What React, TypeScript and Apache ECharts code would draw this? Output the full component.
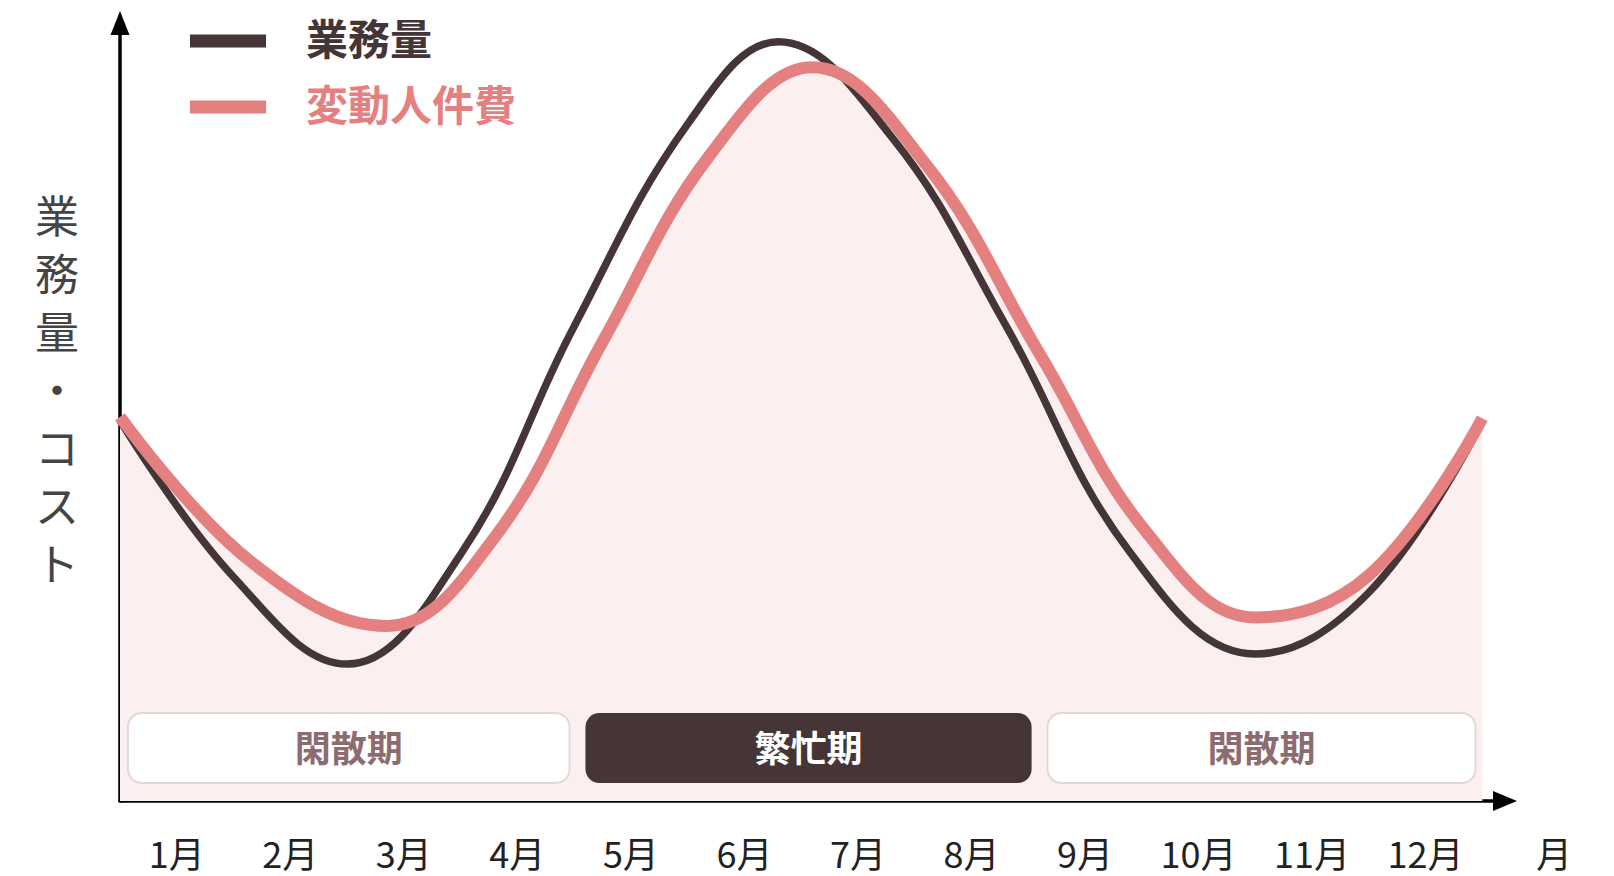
import React, { useEffect, useRef } from 'react';
import * as echarts from 'echarts';

// Tick labels (one per month band)
const months = ['1月', '2月', '3月', '4月', '5月', '6月', '7月', '8月', '9月', '10月', '11月', '12月'];

// 業務量 (workload) – x in months from the start of 1月, y in relative units (0–100)
const workloadX = [0, 1, 2, 3, 4, 5, 5.8, 6.8, 7.8, 8.9, 10, 11, 12];
const workloadY = [48.9, 28.8, 17.6, 31.7, 61.0, 87.0, 97.6, 85.3, 61.2, 31.9, 18.9, 26.8, 48.8];

// 変動人件費 (variable labour cost)
const costX = [0, 1.15, 2.35, 3.3, 4.25, 5.2, 6.1, 7.1, 8.1, 9.05, 10, 11, 12];
const costY = [49.4, 30.8, 22.5, 33.9, 59.0, 83.1, 94.3, 81.8, 57.5, 34.4, 23.6, 29.0, 49.2];

// Period bands (in months)
const periodNames = ['閑散期', '繁忙期', '閑散期'];
const periodStart = [0.07, 4.1, 8.17];
const periodEnd = [3.96, 8.03, 11.94];
const periodBusy = [false, true, false];

const seriesNames = ['業務量', '変動人件費'];
const yAxisName = '業務量・コスト';
const xAxisName = '月';

const DARK = '#463537';
const PINK = '#e58080';
const FILL = '#fbefef';
const FONT = "'Noto Sans CJK JP', 'Noto Sans', sans-serif";
const SMOOTH = 0.4;

export default function App() {
  const ref = useRef<HTMLDivElement>(null);

  useEffect(() => {
    const chart = echarts.init(ref.current!, null, { renderer: 'svg' });

    const workload = workloadX.map((x, i) => [x, workloadY[i]]);
    const cost = costX.map((x, i) => [x, costY[i]]);
    const periods = periodNames.map((n, i) => [periodStart[i], periodEnd[i], i]);

    const BOX_TOP = 11.3;
    const BOX_BOTTOM = 2.3;

    const yName = yAxisName.split('').map((c) => `{c|${c}}`).join('\n') + '\n{g| }';

    const option = {
      animation: false,
      textStyle: { fontFamily: FONT },
      grid: { left: 120, right: 109, top: 23, bottom: 75, containLabel: false },
      legend: {
        orient: 'vertical',
        left: 190,
        top: 15,
        padding: 0,
        icon: 'path://M0,0L76,0M0,10L76,10L76,23L0,23Z',
        itemWidth: 76,
        itemHeight: 23,
        itemGap: 24,
        itemStyle: { borderWidth: 0 },
        textStyle: { fontSize: 42, fontWeight: 'bold', fontFamily: FONT, padding: [0, 0, 0, 35] },
        data: [
          { name: seriesNames[0], textStyle: { color: DARK } },
          { name: seriesNames[1], textStyle: { color: PINK } },
        ],
      },
      xAxis: {
        type: 'value',
        min: 0,
        max: 12.2,
        interval: 0.5,
        name: xAxisName,
        nameLocation: 'end',
        nameGap: 49,
        nameTextStyle: {
          fontSize: 36,
          lineHeight: 36,
          color: '#222',
          fontFamily: FONT,
          align: 'center',
          verticalAlign: 'top',
          padding: [33, 0, 0, 0],
        },
        axisLine: {
          show: true,
          symbol: ['none', 'triangle'],
          symbolSize: [20, 24],
          lineStyle: { color: '#000', width: 3.5 },
        },
        axisTick: { show: false },
        splitLine: { show: false },
        axisLabel: {
          show: true,
          margin: 33,
          fontSize: 36,
          lineHeight: 36,
          color: '#222',
          fontFamily: FONT,
          showMaxLabel: false,
          formatter: (v: number) => {
            const i = Math.round(v * 2);
            return i % 2 === 1 ? months[(i - 1) / 2] ?? '' : '';
          },
        },
      },
      yAxis: {
        type: 'value',
        min: 0,
        max: 100,
        name: yName,
        nameLocation: 'middle',
        nameRotate: 0,
        nameGap: 63,
        nameTextStyle: {
          fontSize: 44,
          lineHeight: 58,
          color: '#444',
          fontFamily: FONT,
          align: 'center',
          verticalAlign: 'middle',
          rich: {
            c: { fontSize: 44, lineHeight: 58, color: '#444', fontFamily: FONT },
            g: { fontSize: 10, lineHeight: 48 },
          },
        },
        axisLine: {
          show: true,
          symbol: ['none', 'triangle'],
          symbolSize: [19, 24],
          lineStyle: { color: '#000', width: 3.5 },
        },
        axisTick: { show: false },
        axisLabel: { show: false },
        splitLine: { show: false },
      },
      series: [
        {
          name: '_area',
          type: 'line',
          data: cost,
          smooth: SMOOTH,
          symbol: 'none',
          silent: true,
          lineStyle: { width: 0, opacity: 0 },
          areaStyle: { color: FILL, opacity: 1 },
          z: 1,
        },
        {
          name: '_periods',
          type: 'custom',
          data: periods,
          encode: { x: [0, 1] },
          clip: false,
          silent: true,
          z: 2,
          renderItem: (params: any, api: any) => {
            const idx = params.dataIndex;
            const p0 = api.coord([periodStart[idx], BOX_TOP]);
            const p1 = api.coord([periodEnd[idx], BOX_BOTTOM]);
            const busy = periodBusy[idx];
            return {
              type: 'group',
              children: [
                {
                  type: 'rect',
                  shape: { x: p0[0], y: p0[1], width: p1[0] - p0[0], height: p1[1] - p0[1], r: 14 },
                  style: busy
                    ? { fill: DARK, stroke: null }
                    : { fill: '#ffffff', stroke: '#e4d7d7', lineWidth: 2 },
                },
                {
                  type: 'text',
                  style: {
                    text: periodNames[idx],
                    x: (p0[0] + p1[0]) / 2,
                    y: (p0[1] + p1[1]) / 2 - 2,
                    align: 'center',
                    verticalAlign: 'middle',
                    fill: busy ? '#ffffff' : '#8d6c70',
                    fontSize: 36,
                    fontWeight: 'bold',
                    fontFamily: FONT,
                  },
                },
              ],
            };
          },
        },
        {
          name: seriesNames[0],
          type: 'line',
          data: workload,
          smooth: SMOOTH,
          symbol: 'none',
          color: DARK,
          itemStyle: { color: DARK },
          lineStyle: { color: DARK, width: 7.5 },
          z: 3,
        },
        {
          name: seriesNames[1],
          type: 'line',
          data: cost,
          smooth: SMOOTH,
          symbol: 'none',
          color: PINK,
          itemStyle: { color: PINK },
          lineStyle: { color: PINK, width: 12 },
          z: 4,
        },
      ],
    };

    chart.setOption(option as any);
    return () => chart.dispose();
  }, []);

  return (
    <div
      ref={ref}
      style={{ position: 'absolute', left: 0, top: 0, width: 1614, height: 876, background: '#fff' }}
    />
  );
}
